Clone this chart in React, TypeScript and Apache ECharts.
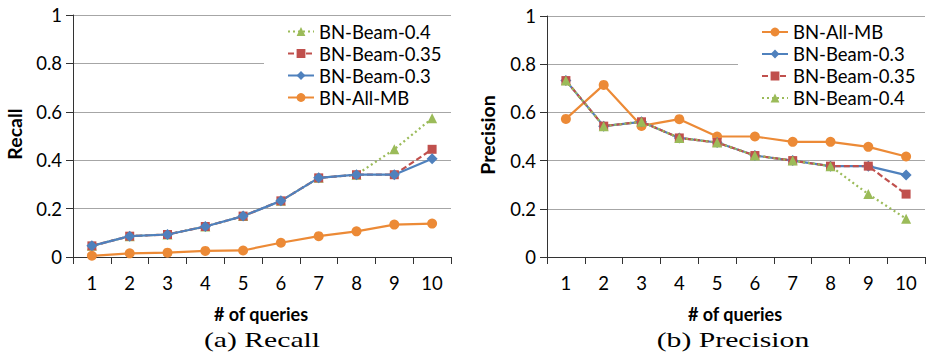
import React, { useEffect, useRef } from "react";
import * as echarts from "echarts";

const categories = ["1", "2", "3", "4", "5", "6", "7", "8", "9", "10"];

const recallAllMB = [0.005, 0.015, 0.018, 0.025, 0.027, 0.059, 0.086, 0.106, 0.134, 0.138];
const recallBeam03 = [0.046, 0.086, 0.093, 0.126, 0.169, 0.232, 0.327, 0.34, 0.34, 0.406];
const recallBeam035 = [0.046, 0.086, 0.093, 0.126, 0.169, 0.232, 0.327, 0.34, 0.34, 0.445];
const recallBeam04 = [0.046, 0.086, 0.093, 0.126, 0.169, 0.232, 0.327, 0.34, 0.445, 0.573];

const precAllMB = [0.573, 0.714, 0.544, 0.572, 0.5, 0.5, 0.478, 0.478, 0.457, 0.417];
const precBeam03 = [0.732, 0.543, 0.561, 0.494, 0.475, 0.421, 0.4, 0.377, 0.377, 0.34];
const precBeam035 = [0.732, 0.543, 0.561, 0.494, 0.475, 0.421, 0.4, 0.377, 0.377, 0.261];
const precBeam04 = [0.732, 0.543, 0.561, 0.494, 0.475, 0.421, 0.4, 0.377, 0.261, 0.159];

const yTicks = { min: 0, max: 1, interval: 0.2 };

const leftLegendOrder = ["BN-Beam-0.4", "BN-Beam-0.35", "BN-Beam-0.3", "BN-All-MB"];
const rightLegendOrder = ["BN-All-MB", "BN-Beam-0.3", "BN-Beam-0.35", "BN-Beam-0.4"];

const FONT = "Lato";

const styles: Record<string, any> = {
  "BN-All-MB": { color: "#EC8A36", symbol: "circle", symbolSize: 10, type: "solid" },
  "BN-Beam-0.3": { color: "#4F81BD", symbol: "diamond", symbolSize: 11, type: "solid" },
  "BN-Beam-0.35": { color: "#C0504D", symbol: "rect", symbolSize: 9, type: [6, 3] },
  "BN-Beam-0.4": { color: "#9BBB59", symbol: "triangle", symbolSize: 10, type: [2, 3] },
};

function makeSeries(name: string, data: number[], axisIndex: number) {
  const s = styles[name];
  return {
    type: "line",
    name,
    xAxisIndex: axisIndex,
    yAxisIndex: axisIndex,
    data,
    symbol: s.symbol,
    symbolSize: s.symbolSize,
    showSymbol: true,
    lineStyle: { color: s.color, width: 2.2, type: s.type },
    itemStyle: { color: s.color },
  };
}

function makeXAxis(gridIndex: number) {
  return {
    type: "category",
    gridIndex,
    data: categories,
    boundaryGap: true,
    axisLine: { show: true, lineStyle: { color: "#333", width: 1 } },
    axisTick: { show: true, length: 7, lineStyle: { color: "#333" } },
    axisLabel: { fontFamily: FONT, fontSize: 18.5, color: "#000", margin: 16 },
    splitLine: { show: false },
  };
}

function makeYAxis(gridIndex: number) {
  return {
    type: "value",
    gridIndex,
    min: yTicks.min,
    max: yTicks.max,
    interval: yTicks.interval,
    axisLine: { show: true, lineStyle: { color: "#333", width: 1 } },
    axisTick: { show: true, length: 7, lineStyle: { color: "#333" } },
    axisLabel: {
      fontFamily: FONT,
      fontSize: 18.5,
      color: "#000",
      margin: 11,
      formatter: (v: number) => String(Math.round(v * 10) / 10),
    },
    splitLine: { show: true, lineStyle: { color: "#a6a6a6", width: 1 } },
  };
}

function makeLegend(names: string[], left: number, top: number) {
  return {
    data: names,
    orient: "vertical",
    left,
    top,
    padding: [3, 10, 1, 23],
    itemGap: 0,
    itemWidth: 26,
    itemHeight: 11,
    selectedMode: false,
    backgroundColor: "#fff",
    textStyle: { fontFamily: FONT, fontSize: 18.5, color: "#000", lineHeight: 22 },
  };
}

export default function App() {
  const ref = useRef<HTMLDivElement>(null);

  useEffect(() => {
    if (!ref.current) return;
    const chart = echarts.init(ref.current, undefined, { renderer: "svg" });
    const option: any = {
      animation: false,
      backgroundColor: "#fff",
      grid: [
        { left: 73, top: 15, width: 378, height: 242 },
        { left: 547, top: 16, width: 378, height: 241 },
      ],
      xAxis: [makeXAxis(0), makeXAxis(1)],
      yAxis: [makeYAxis(0), makeYAxis(1)],
      legend: [makeLegend(leftLegendOrder, 264, 17.5), makeLegend(rightLegendOrder, 738, 18)],
      series: [
        makeSeries("BN-Beam-0.4", recallBeam04, 0),
        makeSeries("BN-Beam-0.35", recallBeam035, 0),
        makeSeries("BN-Beam-0.3", recallBeam03, 0),
        makeSeries("BN-All-MB", recallAllMB, 0),
        makeSeries("BN-All-MB", precAllMB, 1),
        makeSeries("BN-Beam-0.3", precBeam03, 1),
        makeSeries("BN-Beam-0.35", precBeam035, 1),
        makeSeries("BN-Beam-0.4", precBeam04, 1),
      ],
      graphic: [
        {
          type: "text",
          x: 14,
          y: 134,
          rotation: Math.PI / 2,
          style: { text: "Recall", fontFamily: FONT, fontWeight: "bold", fontSize: 19.5, fill: "#000", align: "center", verticalAlign: "middle" },
        },
        {
          type: "text",
          x: 487,
          y: 135,
          rotation: Math.PI / 2,
          style: { text: "Precision", fontFamily: FONT, fontWeight: "bold", fontSize: 19.5, fill: "#000", align: "center", verticalAlign: "middle" },
        },
        {
          type: "text",
          x: 261,
          y: 314,
          style: { text: "# of queries", fontFamily: FONT, fontWeight: "bold", fontSize: 18, fill: "#000", align: "center", verticalAlign: "middle" },
        },
        {
          type: "text",
          x: 735,
          y: 314,
          style: { text: "# of queries", fontFamily: FONT, fontWeight: "bold", fontSize: 18, fill: "#000", align: "center", verticalAlign: "middle" },
        },
        {
          type: "text",
          x: 262,
          y: 340,
          scaleX: 1.35,
          style: { text: "(a) Recall", fontFamily: "Liberation Serif", fontSize: 22, fill: "#000", align: "center", verticalAlign: "middle" },
        },
        {
          type: "text",
          x: 733,
          y: 340,
          scaleX: 1.35,
          style: { text: "(b) Precision", fontFamily: "Liberation Serif", fontSize: 22, fill: "#000", align: "center", verticalAlign: "middle" },
        },
      ],
    };
    chart.setOption(option);
    return () => chart.dispose();
  }, []);

  return (
    <div
      ref={ref}
      style={{ position: "absolute", left: 0, top: 0, width: 927, height: 360 }}
    />
  );
}
